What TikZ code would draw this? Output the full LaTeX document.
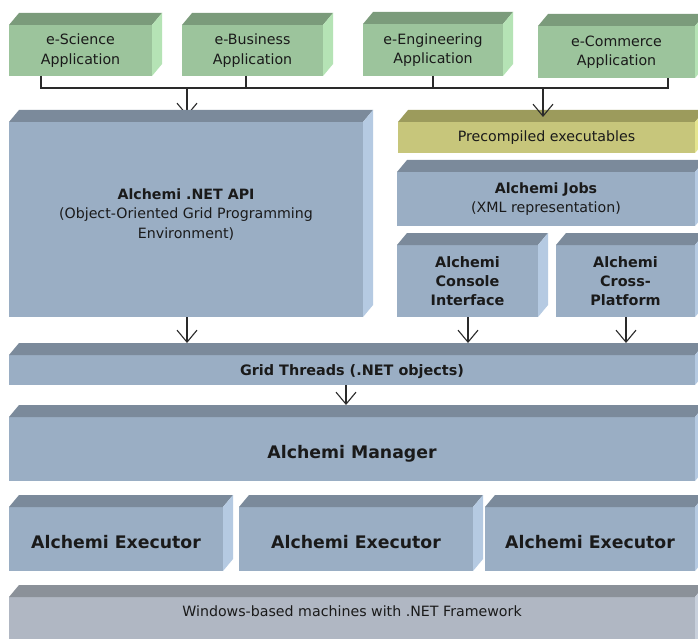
\documentclass[tikz,border=0pt]{standalone}
\usepackage{fontspec}
\setmainfont{DejaVu Sans}
\usetikzlibrary{arrows.meta,backgrounds}
\definecolor{gfront}{HTML}{9CC49C}
\definecolor{gtop}{HTML}{7B9B7B}
\definecolor{gside}{HTML}{B5E3B5}
\definecolor{bfront}{HTML}{9AAEC4}
\definecolor{btop}{HTML}{7B8A9B}
\definecolor{bside}{HTML}{B5CAE2}
\definecolor{yfront}{HTML}{C7C67B}
\definecolor{ytop}{HTML}{9C9B5C}
\definecolor{yside}{HTML}{E5E58F}
\definecolor{wfront}{HTML}{B0B7C3}
\definecolor{wtop}{HTML}{8B9199}
\definecolor{wside}{HTML}{C8D0DC}
\definecolor{ink}{HTML}{1A1A1A}
\definecolor{lineink}{HTML}{2A2A2A}
\tikzset{
  front/.style={inner sep=0pt, outer sep=0pt, align=center, text=ink},
  reg/.style={font=\fontsize{14.2}{19.5}\selectfont},
  bld/.style={font=\fontsize{14.4}{19}\selectfont\bfseries},
  big/.style={font=\fontsize{17.3}{21}\selectfont\bfseries, text height=22pt, text depth=4pt},
  arr/.style={draw=lineink, line width=1.1pt, -{Straight Barb[length=12pt,width=20pt,line width=1.1pt]}},
  bus/.style={draw=lineink, line width=1.1pt},
}
% name, x1, y1, x2, y2, colour set, style, text
\newcommand\cube[8]{%
  \node[front, #7, fill=#6front, minimum width={(#4-#2)*1pt}, minimum height={(#5-#3)*1pt}]
    (#1) at ({(#2+#4)/2},{-(#3+#5)/2}) {#8};
  \fill[#6top] (#1.north west) -- ++(10,12) -- ([shift={(10,12)}]#1.north east) -- (#1.north east) -- cycle;
  \fill[#6side] (#1.north east) -- ++(10,12) -- ([shift={(10,12)}]#1.south east) -- (#1.south east) -- cycle;
}
\begin{document}
\begin{tikzpicture}[x=1pt,y=1pt]
\useasboundingbox (0,0) rectangle (698,-639);
\clip (0,0) rectangle (698,-639);

% application row
\cube{sci}{9}{25}{152}{76}{g}{reg}{e-Science\\Application}
\cube{bus}{182}{25}{323}{76}{g}{reg}{e-Business\\Application}
\cube{eng}{363}{24}{503}{76}{g}{reg}{e-Engineering\\Application}
\cube{com}{538}{26}{695}{78}{g}{reg}{e-Commerce\\Application}

% middle layer
\cube{api}{9}{122}{363}{317}{b}{reg}{}
\node[front, reg] (apitext) at ([yshift=5pt]api.center)
  {\textbf{Alchemi .NET API}\\(Object-Oriented Grid Programming\\Environment)};
\cube{pre}{398}{122}{695}{153}{y}{reg}{Precompiled executables}
\cube{jobs}{397}{172}{695}{226}{b}{reg}{\textbf{Alchemi Jobs}\\(XML representation)}
\cube{con}{397}{245}{538}{317}{b}{bld}{Alchemi\\Console\\Interface}
\cube{cross}{556}{245}{695}{317}{b}{bld}{Alchemi\\Cross-\\Platform}

% lower layers
\cube{grid}{9}{355}{695}{385}{b}{bld, text height=14pt, text depth=3pt}{Grid Threads (.NET objects)}
\cube{mgr}{9}{417}{695}{481}{b}{big}{Alchemi Manager}
\cube{exa}{9}{507}{223}{571}{b}{big}{Alchemi Executor}
\cube{exb}{239}{507}{473}{571}{b}{big}{Alchemi Executor}
\cube{exc}{485}{507}{695}{571}{b}{big}{Alchemi Executor}
\cube{win}{9}{597}{695}{660}{w}{reg}{}
\node[front, reg] (wintext) at (352,-611) {Windows-based machines with .NET Framework};

% connectors
\coordinate (busl) at (41,-88);
\coordinate (busr) at (668,-88);
\begin{scope}[on background layer]
  \fill[white] (0,0) rectangle (698,-639);
  \draw[arr] (187,-88) -- ([yshift=6pt]api.north -| 187,0);
\end{scope}
\draw[bus] (sci.south -| busl) -- (busl) -- (busr) -- (com.south -| busr);
\draw[bus] (bus.south -| 246,0) -- (246,-88);
\draw[bus] (eng.south -| 433,0) -- (433,-88);
\draw[arr] (543,-88) -- ([yshift=5pt]pre.north -| 543,0);
\draw[arr] (api.south -| 187,0) -- ([yshift=12pt]grid.north -| 187,0);
\draw[arr] (con.south -| 468,0) -- ([yshift=12pt]grid.north -| 468,0);
\draw[arr] (cross.south -| 626,0) -- ([yshift=12pt]grid.north -| 626,0);
\draw[arr] (grid.south -| 346,0) -- ([yshift=12pt]mgr.north -| 346,0);
\end{tikzpicture}
\end{document}
